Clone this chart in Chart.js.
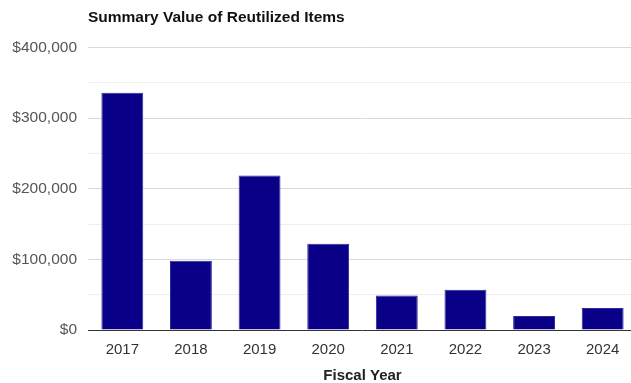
<!DOCTYPE html>
<html>
<head>
<meta charset="utf-8">
<script src="https://cdn.jsdelivr.net/npm/chart.js@4"></script>
<style>
    html, body { margin: 0; padding: 0; background: #fff; overflow: hidden; }
    #wrap { width: 637px; height: 383px; }
</style>
</head>
<body>
<div id="wrap"><canvas id="reutilChart"></canvas></div>
<script>
const fiscalYears = ['2017', '2018', '2019', '2020', '2021', '2022', '2023', '2024'];
const reutilizedValues = [336000, 98000, 219000, 122000, 49000, 57000, 20000, 31000];
const yTickValues = [0, 100000, 200000, 300000, 400000];

const FONT = '"Liberation Sans", Arial, sans-serif';

const money = v => '$' + v.toLocaleString('en-US');

new Chart(document.getElementById('reutilChart'), {
    type: 'bar',
    data: {
        labels: fiscalYears,
        datasets: [{
            label: 'Value',
            data: reutilizedValues,
            backgroundColor: '#0a0088',
            borderColor: '#2a2a9a',
            borderWidth: 1,
            categoryPercentage: 1,
            barPercentage: 0.61
        }]
    },
    options: {
        responsive: true,
        maintainAspectRatio: false,
        animation: false,
        layout: { padding: 0 },
        plugins: {
            legend: { display: false },
            tooltip: { enabled: false },
            title: {
                display: true,
                text: 'Summary Value of Reutilized Items',
                align: 'start',
                fullSize: false,
                color: '#111',
                font: { family: FONT, size: 15.5, weight: 'bold' },
                padding: { top: 8, bottom: 21 }
            }
        },
        scales: {
            x: {
                grid: { display: false },
                border: { display: false },
                afterFit: axis => { axis.height = 53; },
                ticks: {
                    color: '#333',
                    font: { family: FONT, size: 15 },
                    padding: 3
                },
                title: {
                    display: true,
                    text: 'Fiscal Year',
                    color: '#222',
                    font: { family: FONT, size: 15, weight: 'bold' },
                    padding: { top: 0, bottom: -2 }
                }
            },
            y: {
                min: 0,
                max: 400000,
                border: { display: false },
                afterFit: axis => { axis.width = 88; },
                ticks: {
                    stepSize: 50000,
                    color: '#555',
                    font: { family: FONT, size: 15.5 },
                    padding: 11,
                    callback: v => yTickValues.includes(v) ? money(v) : ''
                },
                grid: {
                    drawTicks: false,
                    lineWidth: 1,
                    color: ctx => {
                        const v = ctx.tick.value;
                        if (v === 0) return '#333';
                        return yTickValues.includes(v) ? '#d9d9d9' : '#eeeeee';
                    }
                }
            }
        }
    }
});
</script>
</body>
</html>
